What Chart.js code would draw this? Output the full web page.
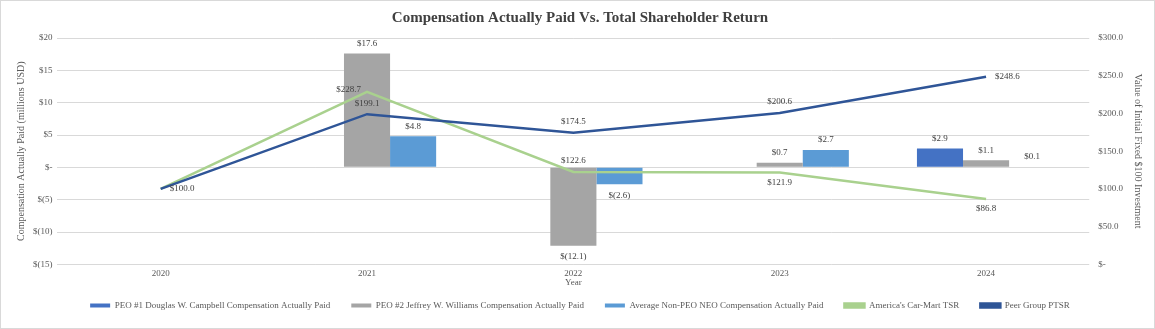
<!DOCTYPE html>
<html>
<head>
    <title>Compensation Actually Paid Vs. Total Shareholder Return</title>
    <script src="https://cdn.jsdelivr.net/npm/chart.js@4"></script>
    <style>
        html, body { margin: 0; padding: 0; background: #fff; }
        #wrap { width: 1153px; height: 327px; border: 1px solid #d9d9d9; }
    </style>
</head>
<body>
    <div id="wrap"><canvas id="capChart"></canvas></div>

    <script>
        // data
        const years = ['2020', '2021', '2022', '2023', '2024'];
        const peo1Cap = [null, null, null, null, 2.9];
        const peo2Cap = [null, 17.6, -12.1, 0.7, 1.1];
        const neoCap = [null, 4.8, -2.6, 2.7, 0.1];
        const carMartTsr = [100.0, 228.7, 122.6, 121.9, 86.8];
        const peerTsr = [100.0, 199.1, 174.5, 200.6, 248.6];

        // where each line label sits relative to its point
        const carMartLabelPos = [null, 'left', 'above', 'below', 'below'];
        const peerLabelPos = ['right', 'above', 'above', 'above', 'right'];

        const serif = '"Liberation Serif", "Times New Roman", serif';

        function moneyM(v) {
            if (v === 0) return '$-';
            return v < 0 ? '$(' + Math.abs(v) + ')' : '$' + v;
        }
        function labelText(v) {
            return v < 0 ? '$(' + Math.abs(v).toFixed(1) + ')' : '$' + v.toFixed(1);
        }

        const valueLabels = {
            id: 'valueLabels',
            afterDatasetsDraw(chart) {
                const ctx = chart.ctx;
                ctx.save();
                ctx.font = '9px ' + serif;
                ctx.fillStyle = '#404040';
                chart.data.datasets.forEach((ds, i) => {
                    const meta = chart.getDatasetMeta(i);
                    meta.data.forEach((el, j) => {
                        const v = ds.data[j];
                        if (v === null || v === undefined) return;
                        let x = el.x, y = el.y;
                        let pos;
                        if (ds.type === 'bar') {
                            pos = v < 0 ? 'under' : 'top';
                        } else {
                            pos = ds.labelPos[j];
                            if (!pos) return;
                        }
                        ctx.textAlign = 'center';
                        ctx.textBaseline = 'middle';
                        if (pos === 'top') y = el.y - 10;
                        else if (pos === 'under') y = el.y + 11;
                        else if (pos === 'above') y = el.y - 11;
                        else if (pos === 'below') y = el.y + 10;
                        else if (pos === 'left') { ctx.textAlign = 'right'; x = el.x - 6; y = el.y - 2; }
                        else if (pos === 'right') { ctx.textAlign = 'left'; x = el.x + 9; }
                        ctx.fillText(labelText(v), x, y);
                    });
                });
                ctx.restore();
            }
        };

        const ctx = document.getElementById('capChart').getContext('2d');
        new Chart(ctx, {
            data: {
                labels: years,
                datasets: [
                    { type: 'bar', label: 'PEO #1 Douglas W. Campbell Compensation Actually Paid', data: peo1Cap, backgroundColor: '#4472C4', yAxisID: 'y', order: 2 },
                    { type: 'bar', label: 'PEO #2 Jeffrey W. Williams Compensation Actually Paid', data: peo2Cap, backgroundColor: '#A5A5A5', yAxisID: 'y', order: 2 },
                    { type: 'bar', label: 'Average Non-PEO NEO Compensation Actually Paid', data: neoCap, backgroundColor: '#5B9BD5', yAxisID: 'y', order: 2 },
                    { type: 'line', label: "America's Car-Mart TSR", data: carMartTsr, labelPos: carMartLabelPos, borderColor: '#A9D18E', backgroundColor: '#A9D18E', borderWidth: 2.5, pointRadius: 0, tension: 0, yAxisID: 'y1', order: 1 },
                    { type: 'line', label: 'Peer Group PTSR', data: peerTsr, labelPos: peerLabelPos, borderColor: '#2F5597', backgroundColor: '#2F5597', borderWidth: 2.5, pointRadius: 0, tension: 0, yAxisID: 'y1', order: 0 }
                ]
            },
            options: {
                responsive: true,
                maintainAspectRatio: false,
                animation: false,
                layout: { padding: { left: 10, right: 5, top: 4, bottom: 8 } },
                datasets: { bar: { categoryPercentage: 0.67, barPercentage: 1.0 } },
                plugins: {
                    title: {
                        display: true,
                        text: 'Compensation Actually Paid Vs. Total Shareholder Return',
                        color: '#404040',
                        font: { family: serif, size: 15, weight: 'bold' },
                        padding: { top: 4, bottom: 11 }
                    },
                    legend: {
                        position: 'bottom',
                        labels: {
                            color: '#595959',
                            font: { family: serif, size: 9 },
                            boxWidth: 20,
                            boxHeight: 4,
                            padding: 21,
                            sort: (a, b) => a.datasetIndex - b.datasetIndex
                        }
                    },
                    tooltip: { enabled: false }
                },
                scales: {
                    x: {
                        grid: { display: false, drawTicks: false },
                        border: { display: false },
                        ticks: { padding: 4, color: '#595959', font: { family: serif, size: 9 } },
                        title: { display: true, text: 'Year', color: '#595959', font: { family: serif, size: 9 }, padding: { top: -6, bottom: -8 } }
                    },
                    y: {
                        position: 'left',
                        min: -15,
                        max: 20,
                        ticks: { stepSize: 5, padding: 5, color: '#595959', font: { family: serif, size: 9 }, callback: moneyM },
                        grid: { color: '#d9d9d9', drawTicks: false },
                        border: { display: false },
                        title: { display: true, text: 'Compensation Actually Paid (millions USD)', color: '#595959', font: { family: serif, size: 10 }, padding: { top: 4, bottom: 1 } }
                    },
                    y1: {
                        position: 'right',
                        min: 0,
                        max: 300,
                        ticks: { stepSize: 50, padding: 9, color: '#595959', font: { family: serif, size: 9 }, callback: v => v === 0 ? '$-' : '$' + v.toFixed(1) },
                        grid: { display: false, drawTicks: false },
                        border: { display: false },
                        title: { display: true, text: 'Value of Initial Fixed $100 Investment', color: '#595959', font: { family: serif, size: 10 }, padding: { top: 5, bottom: 0 } }
                    }
                }
            },
            plugins: [valueLabels]
        });
    </script>
</body>
</html>
